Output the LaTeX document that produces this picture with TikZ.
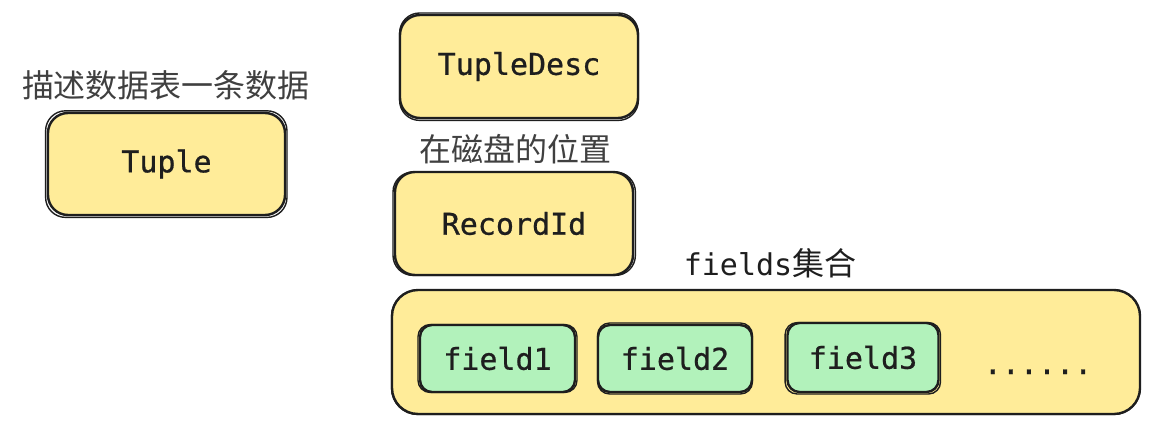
\documentclass[tikz,border=0pt]{standalone}
\usepackage{fontspec}
\setmonofont{DejaVu Sans Mono}
\newfontfamily\boxmono{DejaVu Sans Mono}[FakeBold=0.7]
\newfontfamily\cjk{Noto Sans CJK SC}
\usetikzlibrary{calc}
\definecolor{ink}{HTML}{1E1E1E}
\definecolor{boxyellow}{HTML}{FFEC99}
\definecolor{boxgreen}{HTML}{B2F2BB}
\tikzset{
  ybox/.style={draw=ink, fill=boxyellow, line width=2.4pt, rounded corners=20pt,
    minimum width=#1, inner sep=0pt, text=ink, font=\boxmono\fontsize{30}{30}\selectfont},
  gbox/.style={draw=ink, fill=boxgreen, line width=2.4pt, rounded corners=12pt,
    minimum width=#1, minimum height=67pt, inner sep=0pt, text=ink, font=\boxmono\fontsize{30}{30}\selectfont},
  cjklabel/.style={text=ink!85, font=\cjk\fontsize{32}{32}\selectfont, inner sep=0pt},
  sketchline/.style={draw=ink, line width=1.4pt},
}
\begin{document}
\begin{tikzpicture}[x=1pt,y=-1pt]
\useasboundingbox[fill=white] (0,0) rectangle (1152,426);

% labels
\node[cjklabel] (lbltuple) at (166,85) {描述数据表一条数据};
\node[cjklabel] (lblrid) at (515,149) {在磁盘的位置};
\node[inner sep=0pt, text=ink] (lblfields) at (770,263) {{\ttfamily\fontsize{30}{30}\selectfont fields}{\cjk\fontsize{32}{32}\selectfont 集合}};

% yellow boxes
\node[ybox=237pt, minimum height=102pt] (tuple) at (166.5,164) {Tuple};
\draw[sketchline, rounded corners=20pt] ([shift={(-1.2,-1)}]tuple.north west) rectangle ([shift={(0.8,1.2)}]tuple.south east);

\node[ybox=238pt, minimum height=103pt] (tupledesc) at (519,66.5) {TupleDesc};
\draw[sketchline, rounded corners=20pt] ([shift={(0.8,-0.8)}]tupledesc.north west) rectangle ([shift={(-0.8,1.2)}]tupledesc.south east);

\node[ybox=238pt, minimum height=103pt] (recordid) at (514,223.5) {RecordId};
\draw[sketchline, rounded corners=20pt] ([shift={(-0.8,1.2)}]recordid.north west) rectangle ([shift={(1.2,-0.8)}]recordid.south east);

\node[ybox=748pt, minimum height=124pt, rounded corners=26pt] (fields) at (766,352) {};
\draw[sketchline, rounded corners=26pt] ([shift={(0.8,1.2)}]fields.north west) rectangle ([shift={(-1.2,-0.8)}]fields.south east);

% green field boxes
\node[gbox=155pt] (field1) at (497.5,358.5) {field1};
\draw[sketchline, rounded corners=12pt] ([shift={(-0.8,0.8)}]field1.north west) rectangle ([shift={(0.8,-0.8)}]field1.south east);

\node[gbox=154pt] (field2) at (675,358.5) {field2};
\draw[sketchline, rounded corners=12pt] ([shift={(0.8,-0.8)}]field2.north west) rectangle ([shift={(-0.8,0.8)}]field2.south east);

\node[gbox=151pt, minimum height=69pt] (field3) at (863,357.5) {field3};
\draw[sketchline, rounded corners=12pt] ([shift={(-1.2,0.8)}]field3.north west) rectangle ([shift={(0.8,0.8)}]field3.south east);

\node[inner sep=0pt, text=ink, font=\boxmono\fontsize{30}{30}\selectfont, anchor=base] (dots) at (1038,374) {......};
\end{tikzpicture}
\end{document}
